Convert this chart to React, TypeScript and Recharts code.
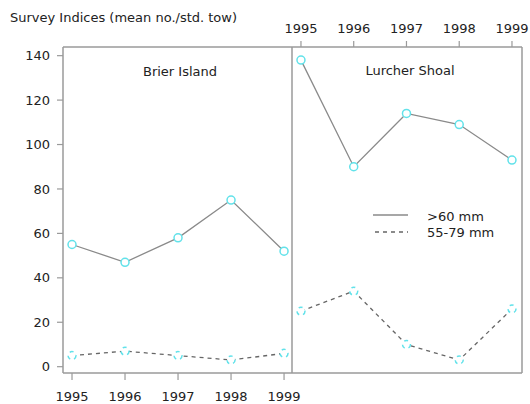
import { LineChart, Line, XAxis, YAxis } from 'recharts';

// Survey indices (mean no./std. tow), two sites, two size classes
const years = [1995, 1996, 1997, 1998, 1999];
const yTicks = [0, 20, 40, 60, 80, 100, 120, 140];
const brierLarge = [55, 47, 58, 75, 52];
const brierSmall = [5, 7, 5, 3, 6];
const lurcherLarge = [138, 90, 114, 109, 93];
const lurcherSmall = [25, 34, 10, 3, 26];
const legendLabels = ['>60 mm', '55-79 mm'];
const panelTitles = ['Brier Island', 'Lurcher Shoal'];
const yTitle = 'Survey Indices (mean no./std. tow)';

const AXIS = '#9a9a9a';
const TEXT = '#222';
const DOT = '#62e2ea';
const FONT = 'DejaVu Sans';
const Y_DOMAIN: [number, number] = [-2.84, 143.9];

const tickStyle = { fill: TEXT, fontSize: 13, fontFamily: FONT };
const axisLine = { stroke: AXIS, strokeWidth: 1.5 };
const tickLine = { stroke: AXIS, strokeWidth: 1.2 };
const dot = { r: 4, stroke: DOT, strokeWidth: 1.5, fill: '#fff' };

function buildRows(large: number[], small: number[]) {
  return years.map((year, i) => ({ year, large: large[i], small: small[i] }));
}

function Panel({ side, large, small }: { side: 'left' | 'right'; large: number[]; small: number[] }) {
  const isLeft = side === 'left';
  const data = buildRows(large, small);
  const xDomain: [number, number] = isLeft ? [1994.83, 1999.15] : [1994.83, 1999.19];

  return (
    <LineChart
      width={isLeft ? 292 : 239}
      height={404}
      data={data}
      margin={{ top: 0, right: 0, bottom: 0, left: 0 }}
    >
      <XAxis
        xAxisId="bottom"
        dataKey="year"
        type="number"
        domain={xDomain}
        ticks={years}
        interval={0}
        allowDataOverflow
        orientation="bottom"
        height={31}
        tickSize={7}
        tickMargin={12}
        axisLine={axisLine}
        tickLine={tickLine}
        tick={isLeft ? tickStyle : false}
      />
      <XAxis
        xAxisId="top"
        dataKey="year"
        type="number"
        domain={xDomain}
        ticks={years}
        interval={0}
        allowDataOverflow
        orientation="top"
        height={47}
        tickSize={6}
        tickMargin={8}
        axisLine={axisLine}
        tickLine={tickLine}
        tick={isLeft ? false : tickStyle}
      />
      {!isLeft && (
        <YAxis
          yAxisId="border"
          type="number"
          domain={Y_DOMAIN}
          orientation="left"
          width={1}
          axisLine={axisLine}
          tickLine={false}
          tick={false}
        />
      )}
      <YAxis
        yAxisId="main"
        type="number"
        domain={Y_DOMAIN}
        ticks={yTicks}
        interval={0}
        allowDataOverflow
        orientation={isLeft ? 'left' : 'right'}
        width={isLeft ? 63 : 8}
        tickSize={6}
        tickMargin={7}
        axisLine={axisLine}
        tickLine={tickLine}
        tick={isLeft ? tickStyle : false}
      />
      <Line
        xAxisId="bottom"
        yAxisId="main"
        dataKey="large"
        stroke="#8a8a8a"
        strokeWidth={1.3}
        dot={dot}
        isAnimationActive={false}
      />
      <Line
        xAxisId="bottom"
        yAxisId="main"
        dataKey="small"
        stroke="#666"
        strokeWidth={1.3}
        strokeDasharray="4 4"
        dot={dot}
        isAnimationActive={false}
      />
    </LineChart>
  );
}

export default function App() {
  return (
    <div style={{ position: 'absolute', left: 0, top: 0, width: 530, height: 404, background: '#fff', overflow: 'hidden' }}>
      <style>{'.recharts-surface { overflow: visible; }'}</style>
      <div style={{ position: 'absolute', left: 0, top: 0 }}>
        <Panel side="left" large={brierLarge} small={brierSmall} />
      </div>
      <div style={{ position: 'absolute', left: 291, top: 0 }}>
        <Panel side="right" large={lurcherLarge} small={lurcherSmall} />
      </div>
      <svg
        width={530}
        height={404}
        style={{ position: 'absolute', left: 0, top: 0, pointerEvents: 'none' }}
        fontFamily={FONT}
        fontSize={13}
        fill={TEXT}
      >
        <text x={10} y={22}>{yTitle}</text>
        <text x={180} y={76} textAnchor="middle">{panelTitles[0]}</text>
        <text x={410} y={75} textAnchor="middle">{panelTitles[1]}</text>
        <line x1={373} x2={408} y1={215} y2={215} stroke="#8a8a8a" strokeWidth={1.3} />
        <line x1={375} x2={408} y1={232} y2={232} stroke="#666" strokeWidth={1.3} strokeDasharray="4 4" />
        <text x={427} y={221}>{legendLabels[0]}</text>
        <text x={427} y={237}>{legendLabels[1]}</text>
      </svg>
    </div>
  );
}
